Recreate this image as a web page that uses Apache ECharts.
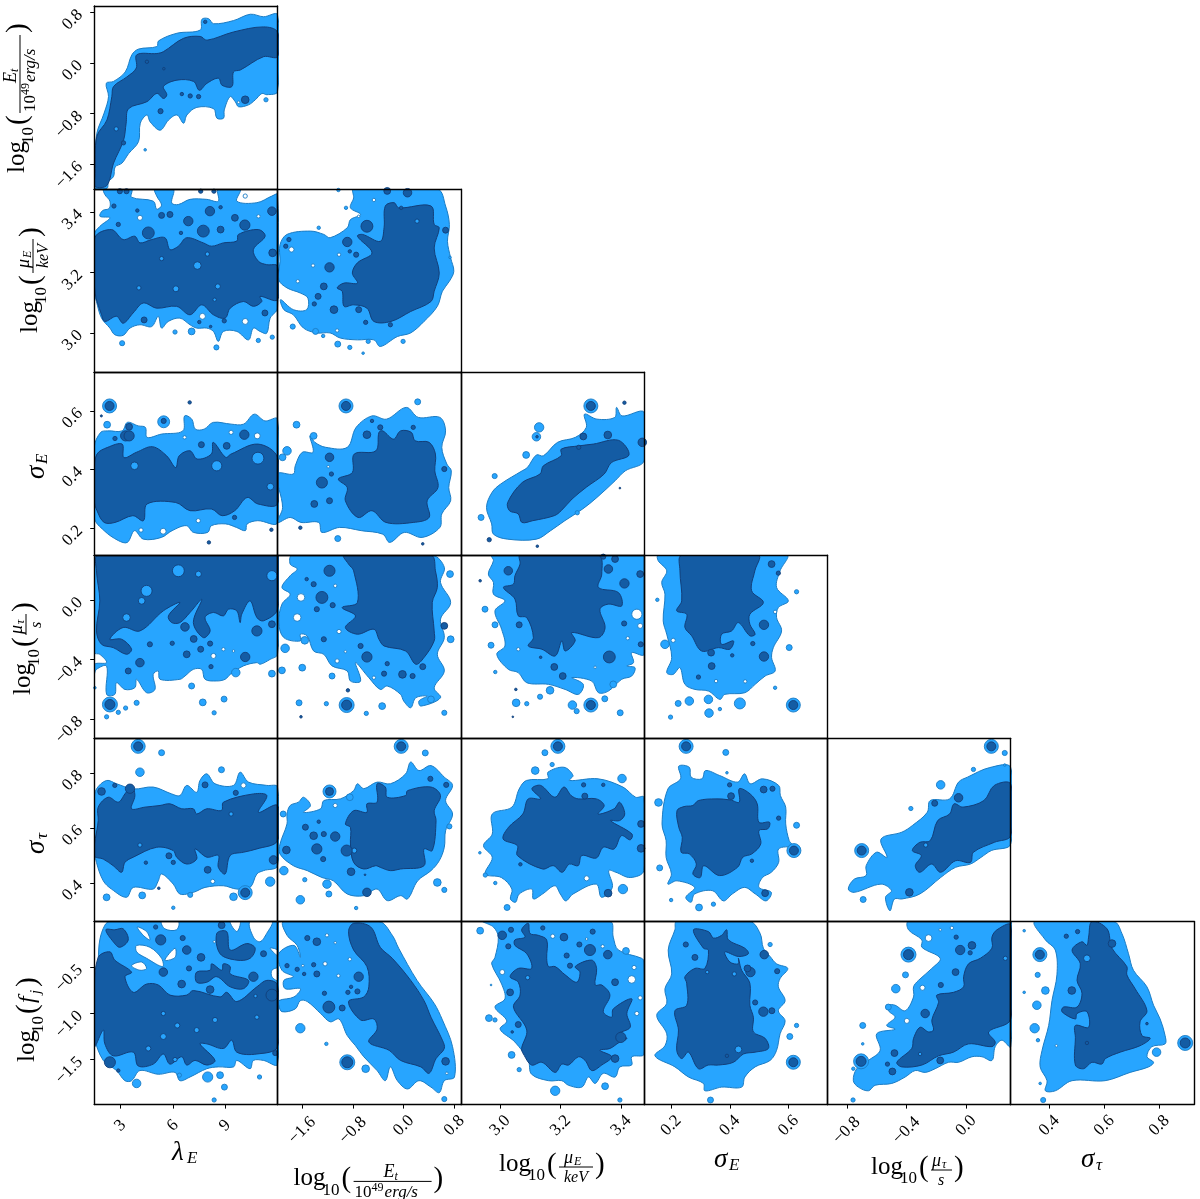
<!DOCTYPE html>
<html><head><meta charset="utf-8">
<style>html,body{margin:0;padding:0;background:#fff}#c{width:1200px;height:1199px}</style>
<script src="https://cdn.jsdelivr.net/npm/echarts@6/dist/echarts.min.js"></script>
</head><body><div id="c"></div>
<script>
// axis ranges and ticks
const rLam=[1.5,12], rEt=[-1.99,0.9], rMu=[2.87,3.476], rSE=[0.108,0.732], rTau=[-0.93,0.30], rST=[0.26,0.926], rFj=[-1.99,0];
const tLam=[3,6,9], tEt=[-1.6,-0.8,0,0.8], tMu=[3.0,3.2,3.4], tSE=[0.2,0.4,0.6], tTau=[-0.8,-0.4,0], tST=[0.4,0.6,0.8], tFj=[-1.5,-1,-0.5];

// ===== panel A: lambda_E vs log Et
const A_light=[[[1.56,-1.98],[1.56,-1.53],[1.65,-1.11],[2.07,-.79],[2.32,-.53],[2.19,-.32],[2.61,-.29],[3.28,-.14],[3.66,.13],[4.04,.22],[5.09,.26],[5.19,.35],[6.24,.47],[7.57,.52],[7.67,.69],[8.05,.70],[8.34,.62],[9.48,.67],[10.44,.77],[11.2,.73],[12,.76],[12,-.45],[11.39,-.5],[11.11,-.48],[10.73,-.58],[10.34,-.66],[9.77,-.69],[9.58,-.61],[9.29,-.53],[8.95,-.74],[8.91,-.87],[8.53,-.87],[8.34,-.72],[7.38,-.7],[6.81,-.82],[6.62,-.95],[6.24,-.82],[5.76,-.9],[5.28,-1.06],[4.71,-.93],[4.52,-.82],[4.14,-.95],[4.04,-1.24],[3.47,-1.43],[3.09,-1.58],[2.7,-1.64],[2.61,-1.79],[2.32,-1.87],[2.23,-1.98]]];
const A_dark=[[[1.56,-1.95],[1.56,-1.74],[1.65,-1.16],[2.23,-.90],[2.51,-.53],[2.61,-.37],[3.37,-.22],[3.91,-.08],[3.94,.13],[5.09,.15],[5.47,.18],[6.62,.39],[7.57,.42],[7.96,.36],[9.48,.49],[11.2,.57],[12,.49],[12,.10],[11.2,.10],[9.87,-.11],[9.48,-.14],[9.39,-.37],[8.82,-.35],[8.62,-.24],[7.96,-.32],[7.52,-.43],[7.19,-.29],[6.24,-.27],[5.47,-.37],[5.66,-.50],[5.47,-.56],[5.09,-.48],[4.52,-.61],[3.47,-.72],[3.33,-.95],[3.18,-1.22],[2.61,-1.58],[2.23,-1.93]]];
const A_isl=[[11.34,-.58,5],[4.42,-1.37,3]];
const A_spot=[[10.15,-.58,9],[5.3,-.76,6],[6.52,-.49,4],[7.0,-.52,5],[7.48,-.53,5],[3.18,-1.26,5],[7.86,.65,4],[4.52,.02,4],[5.49,-.09,3]];
const A_hole=[[9.77,-.62,3]];
const A_gap=[[2.76,-1.04,5]];

// ===== panel B: lambda_E vs log mu_E
const B_light=[[[1.5,3.326],[1.83,3.353],[2.4,3.381],[1.83,3.386],[1.98,3.405],[2.36,3.412],[2.4,3.436],[2.11,3.458],[2.05,3.476],[3.64,3.476],[3.64,3.449],[4.89,3.436],[5.08,3.409],[5.36,3.423],[5.08,3.453],[4.98,3.476],[6.03,3.476],[5.94,3.43],[6.32,3.425],[6.99,3.442],[7.95,3.442],[8.61,3.436],[8.61,3.476],[9.86,3.476],[9.67,3.436],[10.82,3.431],[11.68,3.453],[12,3.458],[12,3.082],[11.58,3.049],[11.38,2.999],[11,3.005],[10.62,3.016],[10.34,2.977],[9.67,3.005],[8.9,3.005],[8.61,2.972],[8.33,3.005],[7.95,3.016],[7.37,3.016],[6.99,3.027],[6.41,3.049],[5.74,3.038],[5.36,3.016],[5.17,3.055],[4.79,3.021],[4.12,3.027],[3.55,3.016],[3.16,2.992],[2.68,2.994],[2.4,3.016],[1.92,3.049],[1.63,3.104],[1.5,3.138]]];
const B_dark=[[[1.54,3.315],[2.49,3.342],[3.16,3.309],[3.83,3.32],[4.12,3.298],[4.79,3.309],[5.55,3.315],[5.84,3.276],[6.32,3.287],[6.8,3.315],[7.75,3.298],[8.23,3.287],[8.9,3.298],[9.67,3.304],[9.76,3.326],[10.91,3.342],[11.29,3.32],[10.62,3.276],[10.91,3.237],[11.38,3.226],[12,3.221],[12,3.11],[11,3.121],[11.1,3.104],[10.62,3.088],[10.05,3.104],[9.29,3.082],[9,3.049],[8.33,3.06],[7.66,3.093],[6.99,3.06],[6.22,3.088],[5.08,3.082],[4.31,3.099],[3.73,3.066],[3.16,3.032],[2.78,3.055],[2.11,3.038],[1.92,3.06],[1.54,3.138]]];
const B_isl=[[3.1,2.966,6],[6.13,3.003,5],[7.08,3.005,8],[8.5,2.952,6],[10.9,2.975,5],[11.7,2.986,5]];
const B_spot=[[4.6,3.331,14],[6.89,3.37,11],[7.75,3.337,14],[8.13,3.403,11],[10.13,3.357,12],[9.56,3.381,8],[5.36,3.389,7],[5.84,3.392,7],[11.68,3.403,10],[8.74,3.342,8],[2.63,3.42,5],[2.88,3.359,5],[3.97,3.405,4],[8.74,3.416,4],[6.47,3.331,4],[11.28,3.066,7],[4.36,3.043,7],[8.95,3.04,5],[7.52,3.036,4],[8.17,3.021,3],[11.72,3.265,9],[2.97,3.469,6],[3.35,3.469,6],[7.6,3.469,5],[8.36,3.469,5]];
const B_hole=[[4.12,3.381,6],[10.15,3.038,7],[7.7,3.055,7],[10.91,3.386,4],[10.15,3.453,5]];
const B_gap=[[7.41,3.223,9],[6.18,3.146,7],[8.58,3.154,6],[5.36,3.246,5],[4.06,3.149,5],[7.98,3.261,5],[8.4,3.11,4]];

// ===== panel C: log Et vs log mu_E
const C_light=[[[-.79,3.476],[.53,3.476],[.66,3.42],[.72,3.359],[.69,3.303],[.74,3.248],[.79,3.204],[.72,3.171],[.61,3.138],[.53,3.088],[.32,3.038],[.11,3],[-.1,2.988],[-.37,2.955],[-.47,2.977],[-.73,2.977],[-1,2.983],[-1.16,3],[-1.37,3],[-1.58,3.016],[-1.74,3.06],[-1.89,3.077],[-1.94,3.11],[-1.74,3.077],[-1.53,3.077],[-1.51,3.115],[-1.63,3.132],[-1.84,3.149],[-1.97,3.176],[-1.95,3.237],[-1.95,3.292],[-1.84,3.326],[-1.47,3.337],[-1.26,3.326],[-1.16,3.315],[-.89,3.348],[-.84,3.375],[-.68,3.392],[-.84,3.414],[-.79,3.447]]];
const C_dark=[[[-.29,3.42],[-.15,3.431],[-.08,3.414],[.43,3.42],[.48,3.359],[.56,3.348],[.48,3.281],[.56,3.198],[.48,3.138],[.43,3.104],[.11,3.071],[-.2,3.038],[-.47,3.038],[-.58,3.082],[-.79,3.093],[-.94,3.088],[-.97,3.138],[-1.05,3.149],[-.94,3.165],[-.73,3.165],[-.81,3.198],[-.73,3.232],[-.5,3.265],[-.73,3.32],[-.65,3.326],[-.37,3.303],[-.31,3.348]]];
const C_isl=[[-1.75,3.021,6],[-1.39,3.005,7],[-1.04,2.963,7],[-.85,2.952,5],[-.56,2.972,5],[-.01,2.972,5],[-.64,2.933,3],[-1.34,3.348,4],[-.91,3.414,4],[-1.03,3.473,4],[-1.27,2.99,4],[.73,3.25,3]];
const C_spot=[[-.89,3.301,11],[-.58,3.353,14],[-1.17,3.217,11],[-1.26,3.154,8],[-1.35,3.121,7],[-1.41,3.096,5],[-1.1,3.077,9],[-.75,3.259,6],[-.85,3.27,4],[-1.81,3.309,5],[-1.86,3.287,5],[-.6,3.035,5],[-.21,3.027,5],[.66,3.34,7],[-.71,3.077,7],[-.04,3.414,4],[.06,3.464,10],[-.26,3.47,8]];
const C_hole=[[-1.77,3.276,6],[-1.02,3.259,4],[-1.43,3.223,4],[-1.67,3.171,4],[-.47,3.44,4],[-.71,3.386,3],[-1.05,3.008,4]];
const C_gap=[[.21,3.37,5]];

// ===== panel D: lambda_E vs sigma_E
const D_light=[[[1.5,.476],[1.87,.527],[2.28,.532],[3.1,.532],[3.4,.561],[4.02,.549],[4.43,.544],[4.53,.51],[5.35,.521],[6.58,.532],[6.68,.583],[7.09,.572],[7.29,.538],[7.8,.538],[8.32,.561],[9.34,.555],[10.06,.555],[10.67,.589],[11.28,.566],[12,.572],[12,.22],[10.87,.226],[10.26,.215],[10.16,.192],[9.65,.203],[9.03,.215],[8.21,.209],[8,.186],[7.19,.186],[6.78,.209],[5.96,.192],[5.35,.169],[4.32,.163],[3.81,.192],[3.4,.152],[2.89,.158],[2.07,.192],[1.5,.237]]];
const D_dark=[[[1.5,.396],[1.66,.453],[2.28,.476],[3.1,.487],[3.2,.441],[3.92,.459],[4.84,.478],[5.65,.447],[6.17,.407],[6.37,.447],[6.99,.464],[7.4,.436],[8.21,.453],[8.32,.493],[9.03,.442],[9.34,.453],[10.88,.487],[12,.442],[12,.283],[10.88,.283],[10.26,.305],[9.55,.26],[8.83,.243],[8.21,.266],[6.99,.26],[6.17,.288],[4.53,.283],[4.32,.226],[3.71,.243],[2.69,.22],[2.07,.22],[1.66,.26],[1.5,.294]]];
const D_isl=[[2.24,.553,8],[5.48,.563,14]];
const D_spot=[[3.3,.515,12],[3.5,.515,12],[3.5,.546,8],[10.1,.519,11],[7.64,.485,7],[9.09,.481,8],[2.69,.506,5],[9.54,.237,5],[5.48,.566,6],[6.97,.629,4],[8.07,.152,4],[11.65,.195,4],[1.91,.583,2.5]];
const D_hole=[[4.18,.194,5],[5.45,.19,7],[7.46,.226,5],[6.68,.51,4],[9.34,.527,5],[10.84,.515,7]];
const D_gap=[[3.81,.413,9],[8.52,.413,12],[10.88,.439,14],[11.59,.342,8]];
const D_ringL=[[2.38,.617,14]], D_ringD=[[2.38,.617,9]];

// ===== panel E: log Et vs sigma_E
const E_light=[[[-1.99,.385],[-1.74,.385],[-1.71,.413],[-1.6,.459],[-1.43,.459],[-1.48,.515],[-1.4,.493],[-1.23,.476],[-.89,.476],[-.75,.544],[-.5,.583],[-.27,.572],[.04,.612],[.23,.578],[.57,.578],[.66,.532],[.6,.476],[.68,.419],[.75,.396],[.71,.339],[.74,.294],[.6,.249],[.57,.203],[.29,.169],[.01,.186],[-.22,.152],[-.33,.18],[-.67,.192],[-1.01,.203],[-1.29,.186],[-1.34,.22],[-1.62,.22],[-1.79,.237],[-1.99,.22],[-1.91,.271]]];
const E_dark=[[[-.78,.453],[-.44,.464],[-.39,.527],[-.33,.532],[-.16,.504],[-.05,.532],[.12,.527],[.18,.498],[.4,.493],[.5,.453],[.49,.396],[.54,.339],[.37,.294],[.4,.237],[.15,.22],[-.28,.22],[-.5,.26],[-.72,.237],[-.92,.294],[-.89,.339],[-1.03,.368],[-.81,.39]]];
const E_isl=[[-1.69,.553,8],[.22,.631,7],[-1.04,.165,7],[-1.84,.464,10],[-1.91,.442,8],[-1.42,.515,8]];
const E_spot=[[-1.17,.442,10],[-1.29,.356,13],[-1.14,.385,5],[-1.41,.283,8],[-1.17,.294,7],[-.58,.519,9],[-.37,.544,6],[.15,.544,5],[-.5,.566,4],[.64,.402,6],[-1.63,.202,4],[.3,.147,3]];
const E_hole=[[-1.19,.41,3]];
const E_gap=[];
const E_ringL=[[-.91,.617,14]], E_ringD=[[-.91,.617,9]];

// ===== panel F: log mu_E vs sigma_E
const F_light=[[[2.955,.271],[2.973,.322],[3.002,.351],[3.073,.396],[3.09,.407],[3.12,.45],[3.143,.447],[3.19,.493],[3.249,.51],[3.285,.544],[3.279,.589],[3.32,.572],[3.379,.578],[3.385,.612],[3.403,.583],[3.476,.595],[3.476,.43],[3.414,.396],[3.38,.362],[3.32,.305],[3.273,.266],[3.214,.226],[3.167,.192],[3.12,.163],[3.025,.163],[2.978,.18],[2.972,.215]]];
const F_dark=[[[3.025,.288],[3.073,.356],[3.132,.385],[3.143,.413],[3.202,.447],[3.202,.47],[3.261,.481],[3.308,.487],[3.391,.5],[3.426,.45],[3.368,.424],[3.344,.385],[3.285,.34],[3.238,.3],[3.202,.26],[3.179,.243],[3.108,.226],[3.072,.22],[3.06,.249],[3.031,.26]]];
const F_isl=[[2.937,.237,7],[2.982,.378,6],[3.086,.45,8],[3.129,.544,11],[3.12,.512,10],[3.255,.253,5]];
const F_spot=[[3.275,.513,8],[3.356,.518,9],[3.26,.476,5],[3.47,.493,10],[3.122,.512,3],[2.964,.161,5],[3.411,.628,4],[3.123,.139,3],[3.396,.337,2]];
const F_hole=[],F_gap=[];
const F_ringL=[[3.30,.617,14]], F_ringD=[[3.30,.617,9]];

// ===== panel G: lambda_E vs log mu_tau
const G_light=[[[1.63,.30],[12,.30],[12,-.365],[11.58,-.399],[11.01,-.432],[10.82,-.421],[10.05,-.443],[9.29,-.5],[9,-.533],[8.52,-.544],[7.85,-.533],[7.66,-.466],[7.18,-.466],[6.7,-.511],[6.41,-.533],[5.27,-.533],[5.17,-.477],[4.88,-.5],[4.98,-.601],[4.5,-.623],[3.93,-.533],[3.83,-.589],[3.26,-.601],[2.78,-.556],[2.68,-.634],[2.21,-.634],[2.21,-.444],[1.63,-.466],[1.5,-.5],[1.5,-.432],[2.21,-.421],[1.82,-.365],[1.5,-.354],[1.5,.129]]];
const G_dark=[[[1.73,.30],[12,.30],[12,-.062],[11.2,-.14],[10.82,-.118],[10.43,-.006],[9.95,-.096],[9.86,-.152],[9.67,-.073],[9.19,-.062],[8.9,-.107],[8.33,-.084],[7.85,-.118],[8.14,-.208],[7.75,-.253],[7.18,-.152],[7.66,.003],[6.99,-.084],[6.41,-.152],[5.94,-.152],[5.75,-.107],[6.41,-.017],[5.46,-.073],[4.12,-.208],[3.16,-.185],[2.4,-.264],[3.07,-.264],[3.64,-.331],[3.35,-.365],[2.59,-.32],[1.92,-.298],[1.63,-.208],[1.82,-.006],[1.63,.196]]];
const G_isl=[[9.61,-.488,10],[11.68,-.495,8],[7.08,-.578,7],[7.72,-.688,8],[8.94,-.666,7],[8.37,-.758,5],[3.93,-.691,6],[2.88,-.755,5],[3.3,-.726,5],[2.21,-.785,5],[1.54,-.59,3]];
const G_spot=[[10.15,-.383,11],[4.12,-.421,10],[3.45,-.477,7],[6.8,-.365,8],[6.7,-.181,10],[10.82,-.208,12],[7.2,-.262,8],[4.69,-.298,6],[5.97,-.291,5],[7.6,-.331,7],[8.14,-.293,6],[8.19,-.448,5],[11.68,-.163,8]];
const G_hole=[[8.9,-.331,4],[8.33,-.376,6],[9.48,-.343,3]];
const G_gap=[[4.5,.061,13],[4.22,-.006,8],[7.47,.174,7],[6.32,.196,14],[3.35,-.118,9],[11.68,.163,12]];
const G_ringL=[[2.4,-.702,15]], G_ringD=[[2.4,-.702,10]];

// ===== panel H: log Et vs log mu_tau
const H_light=[[[-1.76,.30],[.45,.30],[.64,.219],[.58,.118],[.74,-.017],[.58,-.129],[.64,-.253],[.53,-.365],[.64,-.477],[.48,-.59],[.58,-.657],[.27,-.713],[.24,-.679],[.37,-.646],[.19,-.657],[.11,-.724],[.0,-.679],[-.05,-.634],[-.26,-.578],[-.37,-.601],[-.55,-.522],[-.76,-.421],[-.68,-.545],[-.84,-.545],[-.89,-.477],[-1.13,-.443],[-1.26,-.365],[-1.42,-.343],[-1.52,-.242],[-1.63,-.23],[-1.63,-.275],[-1.89,-.253],[-1.97,-.152],[-1.92,-.028],[-1.79,.039],[-1.92,.084],[-1.79,.163],[-1.68,.208],[-1.79,.241]]];
const H_dark=[[[-.94,.30],[.43,.30],[.5,.196],[.53,.084],[.45,-.017],[.48,-.208],[.48,-.275],[.32,-.387],[.19,-.432],[.03,-.343],[-.31,-.309],[-.39,-.264],[-.47,-.197],[-.73,-.23],[-.92,-.185],[-.76,-.107],[-.97,-.051],[-.73,-.017],[-.79,.196],[-.87,.241]]];
const H_isl=[[-1.87,-.325,10],[-1.6,-.455,8],[-1.13,-.511,7],[.73,.174,8],[.74,-.264,8],[-1.92,-.473,8],[-1.56,-.271,9],[-.34,-.713,8],[-1.65,-.691,7],[-.59,-.762,5],[.64,-.758,6],[-1.22,-.697,5],[.43,-.668,8]];
const H_spot=[[-1.17,.196,13],[-1.42,.106,6],[-1.29,.017,14],[-1.12,-.035,6],[-1.37,-.062,6],[-1.53,.14,4],[-1.26,-.264,6],[-.58,-.383,12],[-.68,-.309,6],[-.26,-.428,5],[-.02,-.5,9],[-.31,-.495,6],[.14,-.511,6],[.3,-.448,7],[.64,-.174,8],[-1.62,-.785,3],[-.88,-.607,4]];
const H_hole=[[-1.08,.095,4],[-1.62,.017,9],[-1.68,-.118,9],[-1.02,-.212,5],[-.92,-.347,3],[-1.05,-.41,5],[-.47,-.522,4]];
const H_gap=[];
const H_ringL=[[-.9,-.706,15]], H_ringD=[[-.9,-.706,10]];

// ===== panel I: log mu_E vs log mu_tau
const I_light=[[[2.972,.30],[3.476,.30],[3.476,-.365],[3.435,-.354],[3.441,-.421],[3.419,-.444],[3.446,-.455],[3.435,-.511],[3.402,-.533],[3.358,-.612],[3.325,-.623],[3.303,-.545],[3.237,-.522],[3.275,-.567],[3.259,-.634],[3.215,-.601],[3.16,-.567],[3.088,-.556],[3.06,-.488],[3.027,-.466],[2.989,-.365],[3.016,-.309],[3.005,-.197],[2.983,-.073],[3.016,-.006],[2.978,.039],[2.978,.118],[2.961,.174],[2.978,.264]]];
const I_dark=[[[3.066,.30],[3.325,.30],[3.336,.174],[3.325,.084],[3.391,.05],[3.402,-.04],[3.358,-.028],[3.33,-.062],[3.347,-.185],[3.325,-.253],[3.237,-.219],[3.248,-.275],[3.215,-.343],[3.204,-.275],[3.182,-.376],[3.138,-.331],[3.093,-.309],[3.11,-.253],[3.088,-.118],[3.06,-.107],[3.049,.006],[3.011,.084],[3.044,.106],[3.049,.163],[3.066,.241]]];
const I_isl=[[2.95,-.062,7],[2.983,-.167,7],[2.97,-.304,7],[3.165,-.607,9],[3.053,-.691,9],[3.088,-.697,5],[3.346,-.664,7],[3.397,-.758,7],[3.132,-.65,6],[2.984,-.484,4],[3.239,-.706,10],[3.253,-.747,6],[3.374,-.567,8]];
const I_spot=[[3.361,-.383,14],[3.179,-.45,8],[3.207,-.511,8],[3.063,-.167,7],[3.411,.111,11],[3.358,.208,10],[3.463,.174,8],[3.027,.196,10],[3.41,-.158,6],[3.465,-.298,6],[3.341,.291,6],[3.38,.275,8],[3.134,-.385,3],[2.934,.129,3],[3.052,-.601,3],[3.042,-.785,2]];
const I_hole=[[3.452,-.096,12],[3.422,-.257,4],[3.06,-.331,4],[3.314,-.452,3],[3.463,-.174,6]];
const I_gap=[];
const I_ringL=[[3.30,-.706,14]], I_ringD=[[3.30,-.706,9]];

// ===== panel J: sigma_E vs log mu_tau
const J_light=[[[.156,.30],[.593,.30],[.571,.196],[.559,.084],[.599,-.006],[.565,-.051],[.559,-.118],[.576,-.208],[.548,-.32],[.542,-.387],[.554,-.477],[.52,-.511],[.486,-.567],[.451,-.623],[.383,-.634],[.366,-.668],[.327,-.612],[.281,-.601],[.247,-.567],[.23,-.455],[.207,-.5],[.185,-.488],[.202,-.387],[.185,-.23],[.173,-.14],[.179,.039],[.168,.118],[.185,.196],[.156,.264]]];
const J_dark=[[[.236,.30],[.497,.30],[.485,.196],[.474,.062],[.514,-.017],[.468,-.096],[.468,-.163],[.486,-.23],[.468,-.241],[.429,-.152],[.406,-.208],[.372,-.23],[.372,-.298],[.412,-.275],[.4,-.331],[.361,-.32],[.304,-.343],[.27,-.241],[.247,-.185],[.253,-.096],[.219,-.073],[.236,-.006],[.23,.196]]];
const J_isl=[[.602,-.32,7],[.627,.055,5],[.153,.001,4],[.554,-.59,4],[.224,-.695,7],[.262,-.679,10],[.327,-.668,10],[.329,-.76,10],[.434,-.695,13],[.366,-.733,4],[.198,-.787,5],[.179,-.298,10]];
const J_spot=[[.516,-.167,11],[.516,-.38,11],[.338,-.444,8],[.293,-.518,5],[.336,-.354,8],[.408,-.372,4],[.478,-.293,5],[.542,.241,8],[.565,.18,5]];
const J_hole=[[.554,-.08,4],[.353,-.545,4],[.452,-.547,4],[.207,-.271,5]];
const J_gap=[];
const J_ringL=[[.616,-.706,14]], J_ringD=[[.616,-.706,9]];

// ===== panel K: lambda_E vs sigma_tau
const K_light=[[[1.5,.7],[1.63,.742],[2.21,.773],[2.78,.761],[3.74,.742],[4.88,.749],[5.94,.724],[6.41,.718],[6.8,.755],[7.37,.73],[7.56,.773],[7.95,.797],[8.42,.761],[9.48,.755],[9.86,.803],[10.34,.767],[11.39,.755],[12,.749],[12,.463],[11.2,.445],[10.82,.433],[10.43,.384],[9.67,.378],[8.9,.39],[7.85,.384],[7.18,.366],[6.41,.36],[6.03,.396],[5.36,.433],[5.17,.408],[4.88,.378],[3.74,.384],[3.35,.348],[2.49,.378],[2.02,.408],[1.63,.475],[1.5,.53]]];
const K_dark=[[[1.5,.5],[1.73,.627],[1.73,.676],[2.3,.712],[2.88,.694],[3.26,.724],[3.64,.755],[3.83,.718],[3.64,.67],[4.41,.676],[5.27,.682],[5.84,.688],[6.51,.67],[7.18,.67],[7.37,.651],[7.95,.67],[8.8,.664],[8.9,.694],[10.62,.724],[11.39,.718],[10.91,.657],[12,.682],[12,.554],[10.82,.524],[10.05,.512],[9.29,.5],[9,.433],[8.61,.457],[8.61,.5],[7.95,.494],[7.28,.524],[7.37,.487],[6.8,.469],[6.22,.494],[6.03,.518],[5.08,.53],[3.74,.494],[3.26,.475],[3.07,.439],[2.59,.463],[2.02,.487]]];
const K_isl=[[4.12,.803,10],[5.36,.874,7],[8.79,.812,7],[4.25,.355,8],[7.0,.357,6],[9.48,.35,9],[2.21,.348,8],[11.58,.405,11],[6.03,.31,4]];
const K_spot=[[1.92,.733,9],[3.55,.743,11],[2.68,.755,5],[7.85,.757,7],[9.61,.728,6],[5.78,.499,7],[6.03,.475,5],[4.46,.474,4],[8.0,.448,8],[11.77,.484,10],[5.2,.381,3]];
const K_hole=[[10.05,.755,6],[8.29,.406,5]];
const K_gap=[[4.12,.538,5],[9.34,.651,5]];
const K_ringL=[[4.02,.897,14],[10.15,.365,14]], K_ringD=[[4.02,.897,9],[10.15,.365,9]];

// ===== panel L: log Et vs sigma_tau
const L_light=[[[-1.95,.542],[-1.84,.615],[-1.84,.651],[-1.79,.682],[-1.66,.694],[-1.58,.712],[-1.47,.682],[-1.58,.657],[-1.31,.67],[-1.26,.7],[-1,.706],[-.79,.736],[-.73,.761],[-.63,.743],[-.42,.767],[-.21,.761],[.03,.797],[.11,.84],[.24,.809],[.43,.827],[.64,.785],[.77,.755],[.66,.7],[.77,.651],[.66,.59],[.64,.53],[.56,.481],[.43,.445],[.22,.408],[.06,.342],[-.05,.354],[-.26,.336],[-.42,.378],[-.63,.354],[-.89,.36],[-1.11,.408],[-1.29,.42],[-1.52,.445],[-1.74,.463],[-1.95,.505]]];
const L_dark=[[[-.92,.615],[-.79,.663],[-.58,.657],[-.58,.688],[-.42,.694],[-.42,.761],[-.29,.749],[-.26,.712],[.03,.718],[.06,.736],[.43,.749],[.58,.718],[.48,.663],[.51,.627],[.45,.518],[.32,.524],[.32,.463],[-.05,.451],[-.21,.445],[-.37,.457],[-.44,.463],[-.63,.451],[-.79,.475],[-.84,.542],[-.84,.602]]];
const L_isl=[[-1.9,.651,7],[.72,.606,6],[.34,.873,7],[-.85,.712,8],[-1.56,.412,5],[-1.63,.339,10],[-1.89,.445,10],[-.75,.309,4],[.53,.402,9],[.64,.375,6],[-1.21,.396,10],[-1.18,.36,7]];
const L_spot=[[-1.42,.572,9],[-1.55,.603,7],[-1.26,.578,6],[-1.08,.569,11],[-1.37,.524,12],[-1.27,.487,6],[-.9,.518,13],[-.83,.441,9],[-.58,.366,10],[.42,.779,6],[.67,.757,6],[-1.85,.52,9],[-1.34,.623,4],[-.61,.43,2]];
const L_hole=[[-1.08,.682,5]];
const L_gap=[[-.78,.518,6]];
const L_ringL=[[-1.17,.733,13],[-.04,.897,14]], L_ringD=[[-1.17,.733,8],[-.04,.897,9]];

// ===== panel M: log mu_E vs sigma_tau
const M_light=[[[3.087,.773],[3.158,.779],[3.158,.803],[3.211,.821],[3.241,.791],[3.229,.773],[3.324,.779],[3.406,.749],[3.448,.712],[3.475,.712],[3.475,.445],[3.43,.42],[3.383,.439],[3.359,.445],[3.371,.384],[3.335,.348],[3.318,.396],[3.241,.36],[3.217,.335],[3.199,.36],[3.181,.39],[3.14,.36],[3.11,.342],[3.105,.378],[3.063,.36],[3.051,.33],[3.034,.342],[3.039,.378],[3.004,.42],[2.951,.433],[2.974,.493],[2.945,.536],[2.974,.578],[2.974,.651],[3.039,.676],[3.063,.742]]];
const M_dark=[[[3.105,.743],[3.134,.755],[3.181,.712],[3.211,.749],[3.235,.718],[3.258,.706],[3.318,.706],[3.344,.682],[3.324,.651],[3.377,.67],[3.395,.694],[3.412,.651],[3.395,.627],[3.365,.627],[3.436,.578],[3.43,.557],[3.401,.572],[3.377,.524],[3.341,.53],[3.318,.491],[3.27,.5],[3.258,.463],[3.229,.469],[3.205,.439],[3.176,.463],[3.14,.451],[3.057,.5],[3.057,.536],[3.01,.56],[3.028,.603],[3.075,.651],[3.093,.706],[3.134,.706]]];
const M_isl=[[3.116,.809,9],[3.403,.78,10],[3.148,.874,7],[3.172,.831,5],[3.023,.311,7],[3.406,.378,11],[2.933,.51,3],[2.951,.429,5],[2.984,.4,4]];
const M_spot=[[3.276,.757,5],[3.28,.716,7],[3.341,.757,4],[3.357,.363,9],[3.466,.615,8],[3.466,.526,9],[3.067,.468,4]];
const M_hole=[[3.286,.417,6]];
const M_gap=[];
const M_ringL=[[3.191,.897,14]], M_ringD=[[3.191,.897,9]];

// ===== panel N: sigma_E vs sigma_tau
const N_light=[[[.189,.742],[.232,.779],[.226,.825],[.262,.821],[.268,.785],[.305,.779],[.317,.809],[.365,.791],[.426,.767],[.45,.797],[.469,.761],[.511,.779],[.566,.755],[.572,.718],[.59,.676],[.59,.615],[.602,.554],[.614,.536],[.566,.524],[.566,.475],[.541,.439],[.511,.42],[.499,.384],[.541,.366],[.523,.335],[.487,.36],[.45,.384],[.408,.36],[.378,.335],[.341,.372],[.28,.36],[.268,.33],[.25,.348],[.28,.384],[.22,.408],[.189,.396],[.201,.433],[.183,.493],[.183,.554],[.169,.615]]];
const N_dark=[[[.22,.663],[.244,.678],[.274,.682],[.293,.7],[.353,.706],[.402,.702],[.432,.694],[.432,.743],[.469,.724],[.493,.688],[.499,.621],[.535,.621],[.529,.597],[.499,.591],[.505,.542],[.475,.506],[.444,.494],[.426,.457],[.365,.427],[.311,.463],[.299,.42],[.274,.433],[.286,.469],[.262,.506],[.234,.512],[.238,.566],[.226,.603]]];
const N_isl=[[.157,.693,9],[.386,.875,7],[.627,.61,7],[.161,.455,7],[.2,.338,4],[.295,.311,8],[.344,.323,5],[.39,.801,3]];
const N_spot=[[.404,.716,8],[.515,.74,8],[.545,.743,6],[.399,.757,5],[.566,.636,5],[.475,.481,4],[.52,.363,8]];
const N_hole=[],N_gap=[];
const N_ringL=[[.251,.897,14],[.618,.518,14]], N_ringD=[[.251,.897,9],[.618,.518,9]];

// ===== panel O: log mu_tau vs sigma_tau
const O_light=[[[.30,.82],[.30,.542],[.17,.518],[.1,.493],[.03,.469],[-.07,.457],[-.17,.42],[-.31,.36],[-.43,.342],[-.48,.342],[-.51,.299],[-.54,.348],[-.5,.372],[-.57,.396],[-.75,.366],[-.79,.378],[-.75,.414],[-.67,.427],[-.67,.463],[-.6,.512],[-.53,.493],[-.57,.56],[-.43,.585],[-.36,.609],[-.26,.657],[-.24,.7],[-.11,.706],[-.05,.767],[.01,.785],[.16,.82]]];
const O_dark=[[[.30,.76],[.30,.572],[.19,.548],[.05,.512],[.03,.475],[-.07,.481],[-.17,.439],[-.23,.469],[-.31,.439],[-.34,.463],[-.3,.5],[-.36,.518],[-.31,.548],[-.24,.554],[-.19,.627],[-.11,.651],[-.08,.688],[-.02,.676],[.12,.7],[.19,.755]]];
const O_isl=[[-.17,.757,10],[-.37,.671,5],[-.69,.34,7],[.05,.813,5],[.26,.873,6],[.26,.829,3]];
const O_spot=[[-.05,.71,10],[-.21,.69,7],[-.38,.366,9]];
const O_hole=[],O_gap=[[-.27,.538,5]];
const O_ringL=[[-.7,.518,14],[.17,.897,14]], O_ringD=[[-.7,.518,9],[.17,.897,9]];

// ===== panel P: lambda_E vs log f_j
const P_light=[[[1.5,-1.11],[1.73,-.42],[1.82,-.2],[2.11,-.04],[2.4,0],[12,0],[12,-1.55],[11.2,-1.51],[10.62,-1.51],[10.43,-1.6],[9.67,-1.51],[9.48,-1.58],[8.61,-1.58],[7.95,-1.6],[6.99,-1.69],[6.41,-1.73],[6.13,-1.64],[5.17,-1.66],[4.12,-1.62],[3.64,-1.73],[3.26,-1.73],[2.78,-1.62],[2.02,-1.51],[1.5,-1.26]]];
const P_white=[[[3.93,-.26],[4.69,-.28],[5.36,-.4],[5.42,-.49],[4.5,-.4],[3.93,-.33]],[[3.97,-.06],[4.5,-.11],[4.69,-.2],[4.31,-.15]],[[3.64,-.48],[4.22,-.44],[4.5,-.51],[4.12,-.53]],[[5.36,0],[6.32,0],[6.22,-.09],[5.55,-.08]],[[10.43,0],[11.68,0],[11.38,-.13],[11,-.22],[10.62,-.17]],[[9.29,0],[9.86,0],[9.67,-.11]],[[5.55,-.42],[6.13,-.29],[6.13,-.39]],[[11.68,-.53],[12,-.51],[12,-.64],[11.68,-.6]],[[11.58,-.29],[12,-.31],[12,-.37]]];
const P_dark=[[[1.5,-1.36],[1.5,-.78],[1.73,-.39],[2.4,-.33],[2.68,-.42],[3.64,-.55],[3.26,-.6],[3.74,-.77],[4.5,-.68],[5.17,-.69],[5.84,-.8],[6.8,-.8],[7.18,-.75],[8.71,-.82],[9.09,-.77],[9.67,-.87],[10.82,-.71],[11.39,-.64],[12,-.69],[12,-1.36],[10.82,-1.44],[9.67,-1.42],[9.38,-1.29],[8.9,-1.38],[7.95,-1.33],[7.56,-1.33],[8.42,-1.51],[7.95,-1.56],[7.28,-1.51],[6.8,-1.56],[6.51,-1.47],[5.84,-1.55],[5.46,-1.44],[4.88,-1.55],[4.02,-1.57],[3.74,-1.42],[2.59,-1.46],[2.11,-1.33],[2.02,-1.18]],[[7.37,-.55],[8.14,-.53],[8.23,-.46],[8.81,-.53],[8.9,-.46],[9.29,-.49],[9.29,-.57],[10.34,-.64],[10.05,-.73],[9.29,-.71],[8.52,-.6],[7.95,-.66],[7.37,-.66]],[[8.52,-.13],[9.09,-.11],[9.29,-.31],[10.24,-.24],[10.72,-.29],[10.43,-.4],[9.67,-.42],[8.71,-.35]],[[2.17,-.09],[2.68,-.09],[3.16,-.08],[3.45,-.2],[2.97,-.28],[2.59,-.22]]];
const P_isl=[[3.93,-1.76,10],[8.0,-1.69,12],[8.71,-1.67,8],[8.96,-1.8,7],[8.37,-1.94,5],[10.97,-1.69,5],[6.38,-1.67,5]];
const P_spot=[[5.31,-.2,12],[6.8,-.31,10],[7.62,-.39,9],[5.46,-.55,10],[6.93,-.51,6],[6.51,-.68,9],[8.14,-.74,9],[6.57,-.18,6],[11.2,-.35,7],[10.62,-.6,11],[11.68,-.8,14],[2.4,-1.53,13],[2.88,-1.62,4],[5.02,-.06,5],[8.8,-.04,8],[11.87,-1.43,6]];
const P_hole=[[8.38,-.22,3]];
const P_gap=[[5.46,-1,5],[8.42,-1.07,6],[7.37,-1.18,6],[5.46,-1.25,7],[4.6,-1.38,6],[10.82,-1.04,5],[6.13,-1.5,5],[10.74,-.81,4],[6.26,-1.13,6]];

// ===== panel Q: log Et vs log f_j
const Q_light=[[[-1.89,0],[-.39,0],[-.18,-.15],[-.08,-.29],[.21,-.64],[.48,-.89],[.61,-1.07],[.77,-1.36],[.8,-1.69],[.64,-1.73],[.56,-1.86],[.43,-1.8],[.24,-1.73],[.06,-1.82],[-.1,-1.73],[-.21,-1.58],[-.29,-1.73],[-.42,-1.62],[-.63,-1.47],[-.76,-1.35],[-.89,-1.24],[-1.02,-1.06],[-1.16,-1.09],[-1.31,-1],[-1.52,-.87],[-1.63,-.86],[-1.71,-.95],[-1.92,-.98],[-1.97,-.91],[-1.97,-.86],[-1.73,-.82],[-1.63,-.73],[-1.87,-.73],[-1.89,-.64],[-1.74,-.6],[-1.92,-.53],[-1.97,-.35],[-1.73,-.26],[-1.63,-.39],[-1.68,-.26],[-1.84,-.15]]];
const Q_dark=[[[-.87,-.11],[-.79,-.02],[-.52,-.06],[-.37,-.28],[-.18,-.4],[.11,-.64],[.32,-.86],[.43,-1.04],[.61,-1.29],[.64,-1.38],[.51,-1.49],[.4,-1.65],[.27,-1.58],[-.05,-1.51],[-.23,-1.4],[-.55,-1.31],[-.42,-1.17],[-.47,-1.06],[-.68,-1.07],[-.87,-.87],[-.63,-.82],[-.55,-.71],[-.58,-.49],[-.79,-.31]]];
const Q_isl=[[-1.63,-1.16,11],[-1.22,-1.33,4],[-.6,-1.6,9],[.64,-1.93,6]];
const Q_spot=[[-1.37,-.22,9],[-1.52,-.18,6],[-1.84,-.48,5],[-1.68,-.52,5],[-1.57,-.57,4],[-1.42,-.47,5],[-1.37,-.57,7],[-1.25,-.78,5],[-.97,-.94,7],[-1.18,-.93,14],[-.88,-.77,5],[-.73,-.76,6],[-.83,-.71,4],[.66,-1.52,9],[-.71,-.6,11]];
const Q_hole=[[-.85,-.41,4],[-1.03,-.59,4],[-1.24,-.46,5],[-1.21,-.15,4],[-1.08,-.23,3],[-1.59,-.48,3],[.68,-1.65,3]];
const Q_gap=[];
const Q_ringL=[[-.89,-1.53,15]], Q_ringD=[[-.89,-1.53,11]];

// ===== panel R: log mu_E vs log f_j
const R_light=[[[2.945,0],[3.363,0],[3.374,-.17],[3.391,-.31],[3.468,-.4],[3.476,-.44],[3.476,-1.44],[3.435,-1.47],[3.435,-1.56],[3.396,-1.58],[3.38,-1.69],[3.341,-1.65],[3.314,-1.76],[3.292,-1.69],[3.27,-1.8],[3.226,-1.78],[3.204,-1.73],[3.16,-1.73],[3.104,-1.66],[3.093,-1.51],[3.049,-1.31],[3,-1.17],[3.022,-1.08],[2.983,-.93],[3.016,-.84],[3.005,-.68],[2.972,-.46],[2.983,-.39],[2.994,-.17],[2.978,-.06]]];
const R_dark=[[[3.071,-.09],[3.093,-.02],[3.099,-.13],[3.126,-.15],[3.154,-.2],[3.154,-.4],[3.16,-.49],[3.182,-.49],[3.215,-.58],[3.253,-.66],[3.264,-.55],[3.248,-.49],[3.303,-.42],[3.319,-.51],[3.314,-.69],[3.336,-.69],[3.363,-.8],[3.341,-.98],[3.369,-1.04],[3.374,-.95],[3.435,-.84],[3.419,-1],[3.43,-1.15],[3.391,-1.22],[3.419,-1.27],[3.391,-1.32],[3.363,-1.38],[3.33,-1.4],[3.369,-1.47],[3.336,-1.56],[3.303,-1.62],[3.281,-1.51],[3.259,-1.47],[3.226,-1.56],[3.204,-1.55],[3.182,-1.64],[3.138,-1.53],[3.104,-1.56],[3.077,-1.44],[3.071,-1.38],[3.088,-1.18],[3.044,-.93],[3.066,-.8],[3.06,-.66],[3.033,-.6],[3.06,-.51],[3.104,-.51],[3.088,-.35],[3.049,-.26],[3.049,-.2],[3.082,-.17]]];
const R_isl=[[2.934,-.1,8],[2.963,-1.05,8],[2.983,-1.07,5],[3.038,-1.45,8],[3.063,-1.61,5],[3.416,-.32,8],[3.182,-1.84,11],[3.347,-1.79,8],[3.396,-1.94,5],[2.97,-.69,2]];
const R_spot=[[3.007,-.15,10],[3.036,-.09,6],[3.027,-.27,6],[3.141,-.07,5],[3.211,-.17,9],[3.297,-.31,13],[3.356,-.36,10],[3.38,-.66,8],[3.262,-.25,6],[3.22,-.37,6],[3.231,-.48,6],[3.306,-.11,6],[3.033,-.77,8],[3.06,-1.12,7],[3.04,-1.2,3],[3.38,-1.49,9],[3.399,-1.26,12]];
const R_hole=[[3.174,-.16,5],[3.007,-.55,6],[3.435,-.63,9],[3.339,-.27,4],[3.443,-.5,5],[3.452,-1,5],[3.463,-.83,5],[3.286,-.19,3]];
const R_gap=[[3.091,-.61,5]];

// ===== panel S: sigma_E vs log f_j
const S_light=[[[.219,0],[.468,0],[.503,-.13],[.514,-.29],[.537,-.38],[.559,-.46],[.597,-.51],[.571,-.62],[.565,-.71],[.588,-.86],[.565,-.97],[.588,-1.08],[.571,-1.22],[.559,-1.4],[.537,-1.51],[.486,-1.58],[.451,-1.69],[.44,-1.8],[.372,-1.8],[.315,-1.84],[.31,-1.76],[.259,-1.69],[.213,-1.58],[.145,-1.46],[.179,-1.35],[.185,-1.22],[.151,-1.02],[.185,-.89],[.179,-.73],[.202,-.57],[.19,-.31],[.213,-.09]]];
const S_dark=[[[.276,-.09],[.327,-.11],[.344,-.18],[.372,-.15],[.389,-.09],[.395,-.2],[.451,-.29],[.463,-.35],[.429,-.38],[.383,-.33],[.4,-.44],[.429,-.46],[.429,-.4],[.44,-.53],[.468,-.67],[.468,-.91],[.48,-1.04],[.48,-1.2],[.52,-1.27],[.531,-1.38],[.486,-1.42],[.446,-1.44],[.412,-1.53],[.361,-1.56],[.327,-1.56],[.293,-1.6],[.259,-1.42],[.236,-1.49],[.219,-1.4],[.225,-1.18],[.213,-.97],[.253,-.91],[.253,-.67],[.247,-.6],[.281,-.51],[.315,-.51],[.327,-.31],[.31,-.29]]];
const S_isl=[[.604,-1.25,7],[.627,-1.13,5],[.537,-.25,5],[.334,-1.94,7]];
const S_spot=[[.25,-.25,6],[.281,-.39,7],[.517,-.36,10],[.561,-.54,6],[.514,-.98,11],[.543,-.97,7],[.486,-.88,6],[.47,-.55,11],[.46,-.51,8],[.39,-1.46,4]];
const S_hole=[];
const S_gap=[[.429,-1.39,8],[.415,-.57,5],[.323,-.55,4]];
const S_ringL=[[.616,-1.53,14]], S_ringD=[[.616,-1.53,9]];

// ===== panel T: log mu_tau vs log f_j
const T_light=[[[-.386,0],[.30,0],[.30,-1.36],[.241,-1.29],[.196,-1.36],[.174,-1.51],[.107,-1.47],[.04,-1.47],[-.05,-1.53],[-.117,-1.53],[-.207,-1.6],[-.274,-1.64],[-.341,-1.62],[-.408,-1.69],[-.498,-1.76],[-.61,-1.78],[-.655,-1.84],[-.722,-1.8],[-.756,-1.73],[-.733,-1.6],[-.655,-1.51],[-.576,-1.4],[-.599,-1.22],[-.476,-1.17],[-.532,-1.13],[-.476,-1.04],[-.52,-.97],[-.52,-.91],[-.476,-.91],[-.408,-.97],[-.352,-.82],[-.352,-.71],[-.319,-.64],[-.229,-.51],[-.173,-.4],[-.296,-.28],[-.296,-.2],[-.386,-.09]]];
const T_dark=[[[.30,-.04],[.30,-1.06],[.152,-1.2],[.196,-1.31],[.174,-1.36],[.017,-1.33],[-.084,-1.42],[-.184,-1.46],[-.296,-1.56],[-.431,-1.58],[-.464,-1.53],[-.364,-1.38],[-.352,-1.27],[-.308,-1.15],[-.252,-1.2],[-.218,-1.18],[-.229,-1.07],[-.184,-.88],[-.196,-.8],[-.084,-.77],[-.016,-.71],[-.016,-.6],[.017,-.46],[.096,-.4],[.174,-.29],[.174,-.17],[.208,-.09]]];
const T_isl=[[-.406,-.58,7],[-.471,-.73,10],[-.521,-.93,7],[-.693,-1.13,7],[-.693,-1.33,3],[-.758,-1.94,5],[-.756,-1.6,4]];
const T_spot=[[-.039,-.31,11],[.04,-.26,9],[.028,-.34,5],[-.066,-.17,5],[-.274,-1,10],[-.07,-.55,8],[-.169,-.69,6],[-.48,-1.43,8],[-.527,-1.55,5],[-.494,-1.63,8],[-.173,-1.51,8]];
const T_hole=[[-.251,-.18,8],[-.292,-.72,6],[-.397,-1.08,6],[-.173,-.09,3],[-.095,-.07,4]];
const T_gap=[[-.308,-1.44,4],[.264,-.4,5]];
const T_ringL=[[-.704,-1.52,15],[-.386,-.36,15]], T_ringD=[[-.704,-1.52,10],[-.386,-.36,10]];

// ===== panel U: sigma_tau vs log f_j
const U_light=[[[.349,0],[.634,0],[.664,-.13],[.688,-.35],[.706,-.53],[.755,-.71],[.779,-.91],[.803,-1.06],[.821,-1.24],[.821,-1.33],[.773,-1.36],[.755,-1.47],[.779,-1.53],[.761,-1.58],[.694,-1.64],[.603,-1.73],[.483,-1.73],[.422,-1.84],[.386,-1.84],[.392,-1.73],[.367,-1.58],[.374,-1.4],[.398,-1.13],[.41,-.86],[.428,-.58],[.422,-.31],[.386,-.2]]];
const U_dark=[[[.555,0],[.61,-.08],[.628,-.29],[.682,-.49],[.682,-.58],[.712,-.73],[.755,-.97],[.73,-1.09],[.737,-1.24],[.767,-1.27],[.73,-1.35],[.658,-1.42],[.604,-1.49],[.591,-1.55],[.555,-1.53],[.525,-1.6],[.495,-1.56],[.495,-1.26],[.495,-1.13],[.543,-1.15],[.537,-.98],[.501,-1],[.495,-1.06],[.446,-.98],[.452,-.93],[.501,-.93],[.519,-.78],[.501,-.64],[.513,-.46],[.483,-.31],[.519,-.22],[.537,-.26],[.543,-.17]]];
const U_isl=[[.358,-.58,6],[.386,-.75,9],[.355,-.91,10],[.347,-1.16,11],[.79,-1.42,10],[.309,-.1,3],[.309,-.77,3],[.359,-1.29,4],[.378,-1.94,6],[.367,-1.76,3]];
const U_spot=[[.462,-.16,5],[.503,-.11,5],[.628,-.24,9],[.482,-.75,9],[.755,-1.11,3],[.537,-1.32,4]];
const U_hole=[[.426,-1.35,3]];
const U_gap=[[.537,-.4,8]];
const U_ringL=[[.894,-1.32,15],[.366,-.36,14]], U_ringD=[[.894,-1.32,10],[.366,-.36,9]];

// panel table: column/row plus arrays
const N0=[];
const panels=[
 [0,0,A_light,A_dark,N0,A_isl,A_spot,A_hole,A_gap,N0,N0],
 [0,1,B_light,B_dark,N0,B_isl,B_spot,B_hole,B_gap,N0,N0],
 [1,1,C_light,C_dark,N0,C_isl,C_spot,C_hole,C_gap,N0,N0],
 [0,2,D_light,D_dark,N0,D_isl,D_spot,D_hole,D_gap,D_ringL,D_ringD],
 [1,2,E_light,E_dark,N0,E_isl,E_spot,E_hole,E_gap,E_ringL,E_ringD],
 [2,2,F_light,F_dark,N0,F_isl,F_spot,F_hole,F_gap,F_ringL,F_ringD],
 [0,3,G_light,G_dark,N0,G_isl,G_spot,G_hole,G_gap,G_ringL,G_ringD],
 [1,3,H_light,H_dark,N0,H_isl,H_spot,H_hole,H_gap,H_ringL,H_ringD],
 [2,3,I_light,I_dark,N0,I_isl,I_spot,I_hole,I_gap,I_ringL,I_ringD],
 [3,3,J_light,J_dark,N0,J_isl,J_spot,J_hole,J_gap,J_ringL,J_ringD],
 [0,4,K_light,K_dark,N0,K_isl,K_spot,K_hole,K_gap,K_ringL,K_ringD],
 [1,4,L_light,L_dark,N0,L_isl,L_spot,L_hole,L_gap,L_ringL,L_ringD],
 [2,4,M_light,M_dark,N0,M_isl,M_spot,M_hole,M_gap,M_ringL,M_ringD],
 [3,4,N_light,N_dark,N0,N_isl,N_spot,N_hole,N_gap,N_ringL,N_ringD],
 [4,4,O_light,O_dark,N0,O_isl,O_spot,O_hole,O_gap,O_ringL,O_ringD],
 [0,5,P_light,P_dark,P_white,P_isl,P_spot,P_hole,P_gap,N0,N0],
 [1,5,Q_light,Q_dark,N0,Q_isl,Q_spot,Q_hole,Q_gap,Q_ringL,Q_ringD],
 [2,5,R_light,R_dark,N0,R_isl,R_spot,R_hole,R_gap,N0,N0],
 [3,5,S_light,S_dark,N0,S_isl,S_spot,S_hole,S_gap,S_ringL,S_ringD],
 [4,5,T_light,T_dark,N0,T_isl,T_spot,T_hole,T_gap,T_ringL,T_ringD],
 [5,5,U_light,U_dark,N0,U_isl,U_spot,U_hole,U_gap,U_ringL,U_ringD]
];
const xDefs=[[rLam,tLam,0],[rEt,tEt,1],[rMu,tMu,1],[rSE,tSE,1],[rTau,tTau,1],[rST,tST,1]];
const yDefs=[[rEt,tEt,1],[rMu,tMu,1],[rSE,tSE,1],[rTau,tTau,1],[rST,tST,1],[rFj,tFj,1]];

const LIGHT='#27a5ff',LEDGE='#1b7cc4',DARK='#145ca4',DEDGE='#123f7a';
const SERIF='"Liberation Serif","DejaVu Serif",serif';
const fmt=(v,d)=>v.toFixed(d).replace('-','\u2212');
const frame={show:true,onZero:false,lineStyle:{color:'#000',width:1.4}};
const W=183.3,H=183.1,L0=94.2,T0=6;
const grid=[],xAxis=[],yAxis=[],series=[];

function polySeries(polys,i,fill,stroke,z){
  return {type:'custom',xAxisIndex:i*2,yAxisIndex:i*2,clip:true,silent:true,animation:false,z,
    data:polys.map(p=>p[0]),
    renderItem(params,api){
      const pts=polys[params.dataIndex].map(p=>api.coord(p));
      return {type:'polygon',shape:{points:pts,smooth:0.35},style:{fill,stroke,lineWidth:1}};
    }};
}
function blobSeries(data,i,fill,stroke,z,k){
  return {type:'scatter',xAxisIndex:i*2,yAxisIndex:i*2,clip:true,silent:true,animation:false,z,data,
    symbol:'circle',symbolSize:v=>v[2]*k,itemStyle:{color:fill,borderColor:stroke,borderWidth:0.9,opacity:1}};
}
panels.forEach((p,i)=>{
  const [c,r,light,dark,white,isl,spot,hole,gap,ringL,ringD]=p;
  const [xr,xt,xd]=xDefs[c],[yr,yt,yd]=yDefs[r];
  const bottom=r===5,left=c===0;
  grid.push({left:L0+c*W,top:T0+r*H,width:W,height:H,containLabel:false});
  xAxis.push({gridIndex:i,type:'value',position:'bottom',min:xr[0],max:xr[1],z:10,splitLine:{show:false},axisLine:frame,
    axisTick:{show:bottom,customValues:xt,length:4,lineStyle:{color:'#000',width:1}},
    axisLabel:{show:bottom,customValues:xt,rotate:45,align:'center',verticalAlign:'middle',margin:21,
      formatter:v=>{const s=fmt(v,xd);return v<0?'{n|'+s+'}':'{p|'+s+'}';},
      rich:{n:{fontFamily:SERIF,fontSize:17,color:'#000',padding:[7,7,0,0]},p:{fontFamily:SERIF,fontSize:17,color:'#000'}}}});
  xAxis.push({gridIndex:i,type:'value',position:'top',min:xr[0],max:xr[1],z:10,splitLine:{show:false},axisLine:frame,axisTick:{show:false},axisLabel:{show:false}});
  yAxis.push({gridIndex:i,type:'value',position:'left',min:yr[0],max:yr[1],z:10,splitLine:{show:false},axisLine:frame,
    axisTick:{show:left,customValues:yt,length:4,lineStyle:{color:'#000',width:1}},
    axisLabel:{show:left,customValues:yt,rotate:45,align:'right',verticalAlign:'middle',margin:14,
      fontFamily:SERIF,fontSize:17,color:'#000',formatter:v=>fmt(v,yd)}});
  yAxis.push({gridIndex:i,type:'value',position:'right',min:yr[0],max:yr[1],z:10,splitLine:{show:false},axisLine:frame,axisTick:{show:false},axisLabel:{show:false}});
  series.push(polySeries(light,i,LIGHT,LEDGE,2));
  if(white.length) series.push(polySeries(white,i,'#fff',LEDGE,3));
  if(hole.length) series.push(blobSeries(hole,i,'#fff',LEDGE,3,.85));
  if(isl.length) series.push(blobSeries(isl,i,LIGHT,LEDGE,4,.85));
  if(ringL.length) series.push(blobSeries(ringL,i,LIGHT,LEDGE,4,1));
  series.push(polySeries(dark,i,DARK,DEDGE,5));
  if(gap.length) series.push(blobSeries(gap,i,LIGHT,DEDGE,6,.85));
  if(spot.length) series.push(blobSeries(spot,i,DARK,DEDGE,7,.85));
  if(ringD.length) series.push(blobSeries(ringD,i,DARK,DEDGE,7,1));
});

// axis titles (real text, laid out like math)
function t(x,y,text,size,italic,align){
  return {type:'text',silent:true,style:{x,y,text,fill:'#000',font:(italic?'italic ':'')+size+'px '+SERIF,
    align:align||'left',verticalAlign:'middle',textAlign:align||'left',textVerticalAlign:'middle'}};
}
function logPrefix(){return [t(0,-3,'log',25),t(29,9,'10',17)];}
function fracLabel(num,den,w){
  const ch=logPrefix();
  ch.push(t(48,-2,'(',29));
  ch.push({type:'line',silent:true,shape:{x1:60,y1:0,x2:60+w,y2:0},style:{stroke:'#000',lineWidth:1}});
  ch.push(...num,...den);
  ch.push(t(62+w,-2,')',29));
  return ch;
}
const mEt=()=>fracLabel([t(90,-9,'E',18,1),t(101,-5,'t',12,1)],[t(61,11,'10',17),t(78,6,'49',12),t(91,11,'erg/s',17,1)],78);
const mMu=()=>fracLabel([t(65,-9,'\u03bc',18,1),t(75,-5,'E',12,1)],[t(77,11,'keV',16,1,'center')],34);
const mTau=()=>fracLabel([t(61,-9,'\u03bc',18,1),t(71,-5,'\u03c4',12,1)],[t(70,11,'s',16,1,'center')],21);
const mFj=()=>[...logPrefix(),t(48,-2,'(',29),t(59,-2,'f',24,1),t(68,6,'j',15,1),t(75,-2,')',29)];
const sym=(a,b)=>[t(0,0,a,27,1),t(15,6,b,17,1)];
const place=(x,y,children,rot)=>({type:'group',x,y,rotation:rot?Math.PI/2:0,silent:true,children});
const graphic=[
 place(172,1153,sym('\u03bb','E')),
 place(293.6,1181.4,mEt()),
 place(499,1167,mMu()),
 place(714,1160,sym('\u03c3','E')),
 place(871,1170,mTau()),
 place(1081,1160,sym('\u03c3','\u03c4')),
 place(20,173,mEt(),1),
 place(33,333,mMu(),1),
 place(26,695,mTau(),1),
 place(37,479,sym('\u03c3','E'),1),
 place(37,854,sym('\u03c3','\u03c4'),1),
 place(30,1062,mFj(),1)
];
const chart=echarts.init(document.getElementById('c'),null,{renderer:'canvas'});
chart.setOption({animation:false,backgroundColor:'#fff',grid,xAxis,yAxis,series,graphic:{elements:graphic}});
</script></body></html>
